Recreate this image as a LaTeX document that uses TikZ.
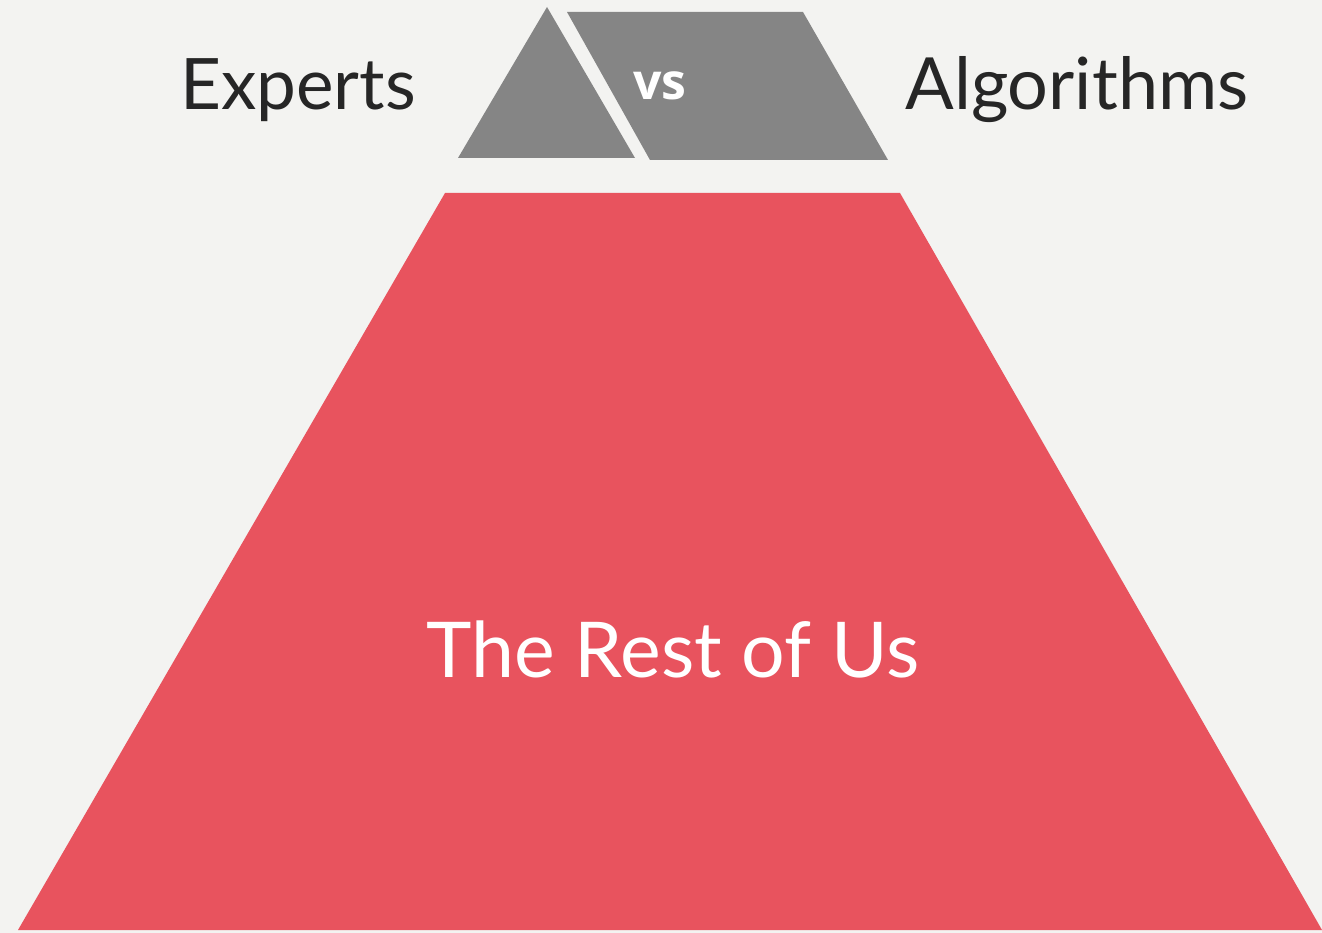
\documentclass[tikz,border=0pt]{standalone}
\usepackage{fontspec}
\setmainfont{Lato}
\newfontfamily\vsfont{Open Sans}
\definecolor{bgpaper}{HTML}{F3F3F1}
\definecolor{vsgray}{HTML}{858585}
\definecolor{usred}{HTML}{E8535E}
\tikzset{
    label text/.style={anchor=base, inner sep=0pt, text=black!85, font=\fontsize{71}{78}\selectfont},
}
\begin{document}
\begin{tikzpicture}[x=1pt, y=-1pt]
        % background
        \fill[bgpaper] (0,0) rectangle (1322,933);
        \useasboundingbox (0,0) rectangle (1322,933);

        % top: experts vs algorithms
        \coordinate (expA) at (547,7);
        \coordinate (expL) at (458,158);
        \coordinate (expR) at (635,158);
        \fill[vsgray] (expA) -- (expR) -- (expL) -- cycle;

        \coordinate (algTL) at (567,12);
        \coordinate (algTR) at (803,12);
        \coordinate (algBR) at (888,160);
        \coordinate (algBL) at (650,160);
        \fill[vsgray] (algTL) -- (algTR) -- (algBR) -- (algBL) -- cycle;

        \node[anchor=base, inner sep=0pt, text=white, font=\vsfont\bfseries\fontsize{50}{56}\selectfont] (vs) at (660,100) {vs};
        \node[label text] (experts) at (298,110) {Experts};
        \node[label text, font=\fontsize{72}{78}\selectfont] (algorithms) at (1077,110) {Algorithms};

        % bottom: the rest of us
        \coordinate (usTL) at (445,193);
        \coordinate (usTR) at (900,193);
        \coordinate (usBR) at (1322,930);
        \coordinate (usBL) at (18,930);
        \fill[usred] (usTL) -- (usTR) -- (usBR) -- (usBL) -- cycle;

        \node[anchor=base, inner sep=0pt, text=white, font=\fontsize{77}{84}\selectfont] (rest) at (673,677) {The Rest of Us};
\end{tikzpicture}
\end{document}
